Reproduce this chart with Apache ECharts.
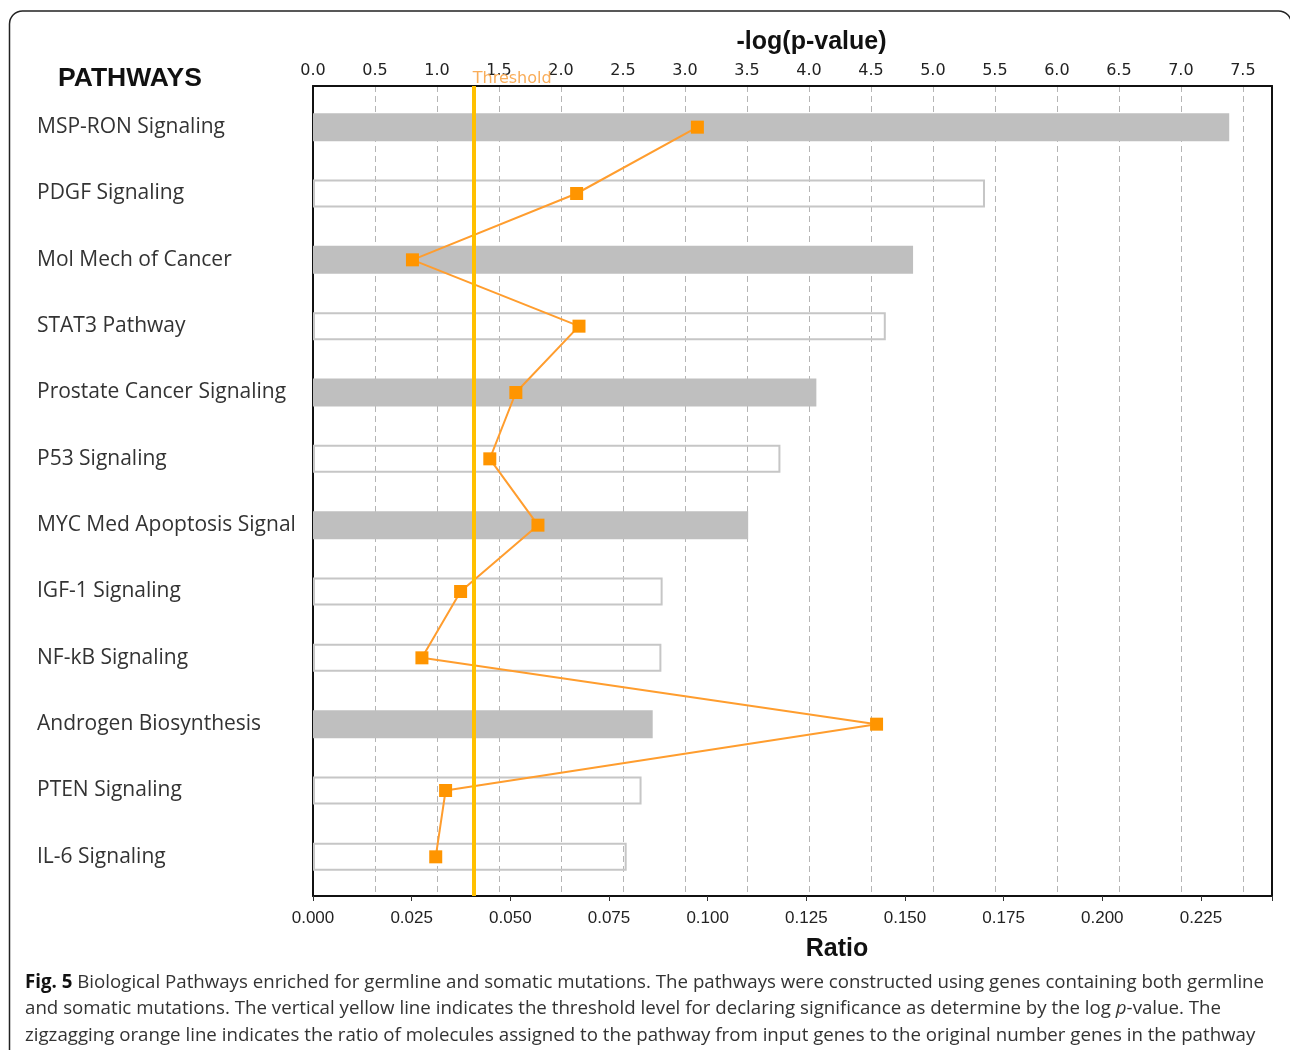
<!DOCTYPE html>
<html>
<head>
<meta charset="utf-8">
<style>
  html, body { margin: 0; padding: 0; background: #fff; }
  #chart { width: 1290px; height: 1050px; }
</style>
<script src="https://cdn.jsdelivr.net/npm/echarts@6/dist/echarts.min.js"></script>
</head>
<body>
<div id="chart"></div>
<script>
// Pathway names, top to bottom
const categories = [
  'MSP-RON Signaling', 'PDGF Signaling', 'Mol Mech of Cancer', 'STAT3 Pathway',
  'Prostate Cancer Signaling', 'P53 Signaling', 'MYC Med Apoptosis Signal',
  'IGF-1 Signaling', 'NF-kB Signaling', 'Androgen Biosynthesis',
  'PTEN Signaling', 'IL-6 Signaling'
];
// -log(p-value) per pathway (bars, top axis)
const negLogP = [7.39, 5.42, 4.84, 4.62, 4.06, 3.77, 3.51, 2.82, 2.81, 2.74, 2.65, 2.53];
// Ratio of molecules per pathway (orange line, bottom axis)
const ratio = [0.0974, 0.0668, 0.0252, 0.0674, 0.0514, 0.0448, 0.0570, 0.0374, 0.0276, 0.1428, 0.0336, 0.0311];
// Significance threshold on the -log(p-value) scale
const threshold = 1.305;
// Axis ranges
const logpMax = 7.735, logpStep = 0.5;
const ratioMax = 0.243, ratioStep = 0.025;

const onStep = (v, step) => Math.abs(v / step - Math.round(v / step)) < 1e-6;

const chart = echarts.init(document.getElementById('chart'), null, { renderer: 'canvas' });

// solid grey rows vs. outlined rows
const shadedRows = new Set([0, 2, 4, 6, 9]);
const filledBar = { color: '#bfbfbf' };
const hollowBar = { color: 'rgba(0,0,0,0)', borderColor: '#c6c6c6', borderWidth: 2 };
const frameLine = { show: true, onZero: false, lineStyle: { color: '#111', width: 2 } };

const option = {
  backgroundColor: '#ffffff',
  animation: false,
  grid: [
    // frame grid: border, gridlines and both value axes
    { left: 313, right: 18, top: 86, bottom: 154 },
    // data grid: pathway bands
    { left: 313, right: 18, top: 94, bottom: 160 }
  ],
  xAxis: [
    {
      gridIndex: 0, type: 'value', position: 'top', min: 0, max: logpMax, interval: logpStep,
      name: '-log(p-value)', nameLocation: 'middle', nameGap: 31,
      nameTextStyle: { fontFamily: 'Liberation Sans', fontWeight: 'bold', fontSize: 25, color: '#111', padding: [0, 0, 0, 38] },
      axisLine: frameLine, axisTick: { show: false },
      axisLabel: {
        margin: 7, fontFamily: 'DejaVu Sans', fontSize: 16, color: '#222',
        formatter: v => onStep(v, logpStep) ? v.toFixed(1) : ''
      },
      splitLine: { show: true, showMinLine: false, showMaxLine: false, lineStyle: { color: '#b5b5b5', width: 1, type: [6, 4] } }
    },
    {
      gridIndex: 0, type: 'value', position: 'bottom', min: 0, max: ratioMax, interval: ratioStep,
      name: 'Ratio', nameLocation: 'middle', nameGap: 41,
      nameTextStyle: { fontFamily: 'Liberation Sans', fontWeight: 'bold', fontSize: 25, color: '#111', padding: [0, 0, 0, 89] },
      axisLine: frameLine,
      axisTick: { show: true, length: 5, lineStyle: { color: '#333', width: 1 } },
      axisLabel: {
        margin: 14, fontFamily: 'Liberation Sans', fontSize: 17, color: '#222',
        formatter: v => onStep(v, ratioStep) ? v.toFixed(3) : ''
      },
      splitLine: { show: false }
    },
    { gridIndex: 1, type: 'value', min: 0, max: logpMax, show: false },
    { gridIndex: 1, type: 'value', min: 0, max: ratioMax, show: false }
  ],
  yAxis: [
    {
      gridIndex: 0, type: 'value', min: 0, max: 1, position: 'left',
      axisLine: frameLine, axisTick: { show: false }, axisLabel: { show: false }, splitLine: { show: false }
    },
    {
      gridIndex: 1, type: 'category', inverse: true, data: categories,
      axisLine: { show: false }, axisTick: { show: false }, splitLine: { show: false },
      axisLabel: { align: 'left', margin: 276, fontFamily: 'Open Sans', fontSize: 21, color: '#333' }
    },
    {
      gridIndex: 0, type: 'value', min: 0, max: 1, position: 'right',
      axisLine: frameLine, axisTick: { show: false }, axisLabel: { show: false }, splitLine: { show: false }
    }
  ],
  series: [
    {
      name: '-log(p-value)', type: 'bar', xAxisIndex: 2, yAxisIndex: 1, barWidth: 28, z: 2,
      data: negLogP.map((v, i) => ({ value: v, itemStyle: shadedRows.has(i) ? filledBar : hollowBar }))
    },
    {
      name: 'Threshold', type: 'line', xAxisIndex: 0, yAxisIndex: 0, data: [], z: 3,
      markLine: {
        silent: true, symbol: 'none', animation: false,
        lineStyle: { color: '#ffc000', width: 4, type: 'solid' },
        label: {
          show: true, position: 'end', formatter: 'Threshold', distance: -1,
          fontFamily: 'DejaVu Sans', fontSize: 16, color: '#f9ad5a', padding: [0, 0, 0, 76]
        },
        data: [{ xAxis: threshold }]
      }
    },
    {
      name: 'Ratio', type: 'line', xAxisIndex: 3, yAxisIndex: 1, z: 4,
      symbol: 'rect', symbolSize: 13, showSymbol: true,
      lineStyle: { color: '#ff9d2e', width: 2 },
      itemStyle: { color: '#ff9500' },
      data: ratio.map((r, i) => [r, categories[i]])
    }
  ],
  graphic: [
    {
      type: 'rect', silent: true, z: -1,
      shape: { x: 9.5, y: 11, width: 1282, height: 1200, r: 13 },
      style: { fill: 'none', stroke: '#222', lineWidth: 1.5 }
    },
    {
      type: 'text', left: 58, top: 65,
      style: { text: 'PATHWAYS', font: 'bold 26.5px "Liberation Sans"', fill: '#111' }
    },
    {
      type: 'text', left: 25, top: 973,
      style: {
        text: '{b|Fig. 5} Biological Pathways enriched for germline and somatic mutations. The pathways were constructed using genes containing both germline',
        font: '18.7px "Open Sans"', fill: '#333',
        rich: { b: { font: 'bold 18.7px "Open Sans"', fill: '#111' } }
      }
    },
    {
      type: 'text', left: 25, top: 999,
      style: {
        text: 'and somatic mutations. The vertical yellow line indicates the threshold level for declaring significance as determine by the log {i|p}-value. The',
        font: '18.7px "Open Sans"', fill: '#333',
        rich: { i: { font: 'italic 18.7px "Open Sans"', fill: '#333' } }
      }
    },
    {
      type: 'text', left: 25, top: 1026,
      style: {
        text: 'zigzagging orange line indicates the ratio of molecules assigned to the pathway from input genes to the original number genes in the pathway',
        font: '18.7px "Open Sans"', fill: '#333'
      }
    }
  ]
};

chart.setOption(option);
</script>
</body>
</html>
